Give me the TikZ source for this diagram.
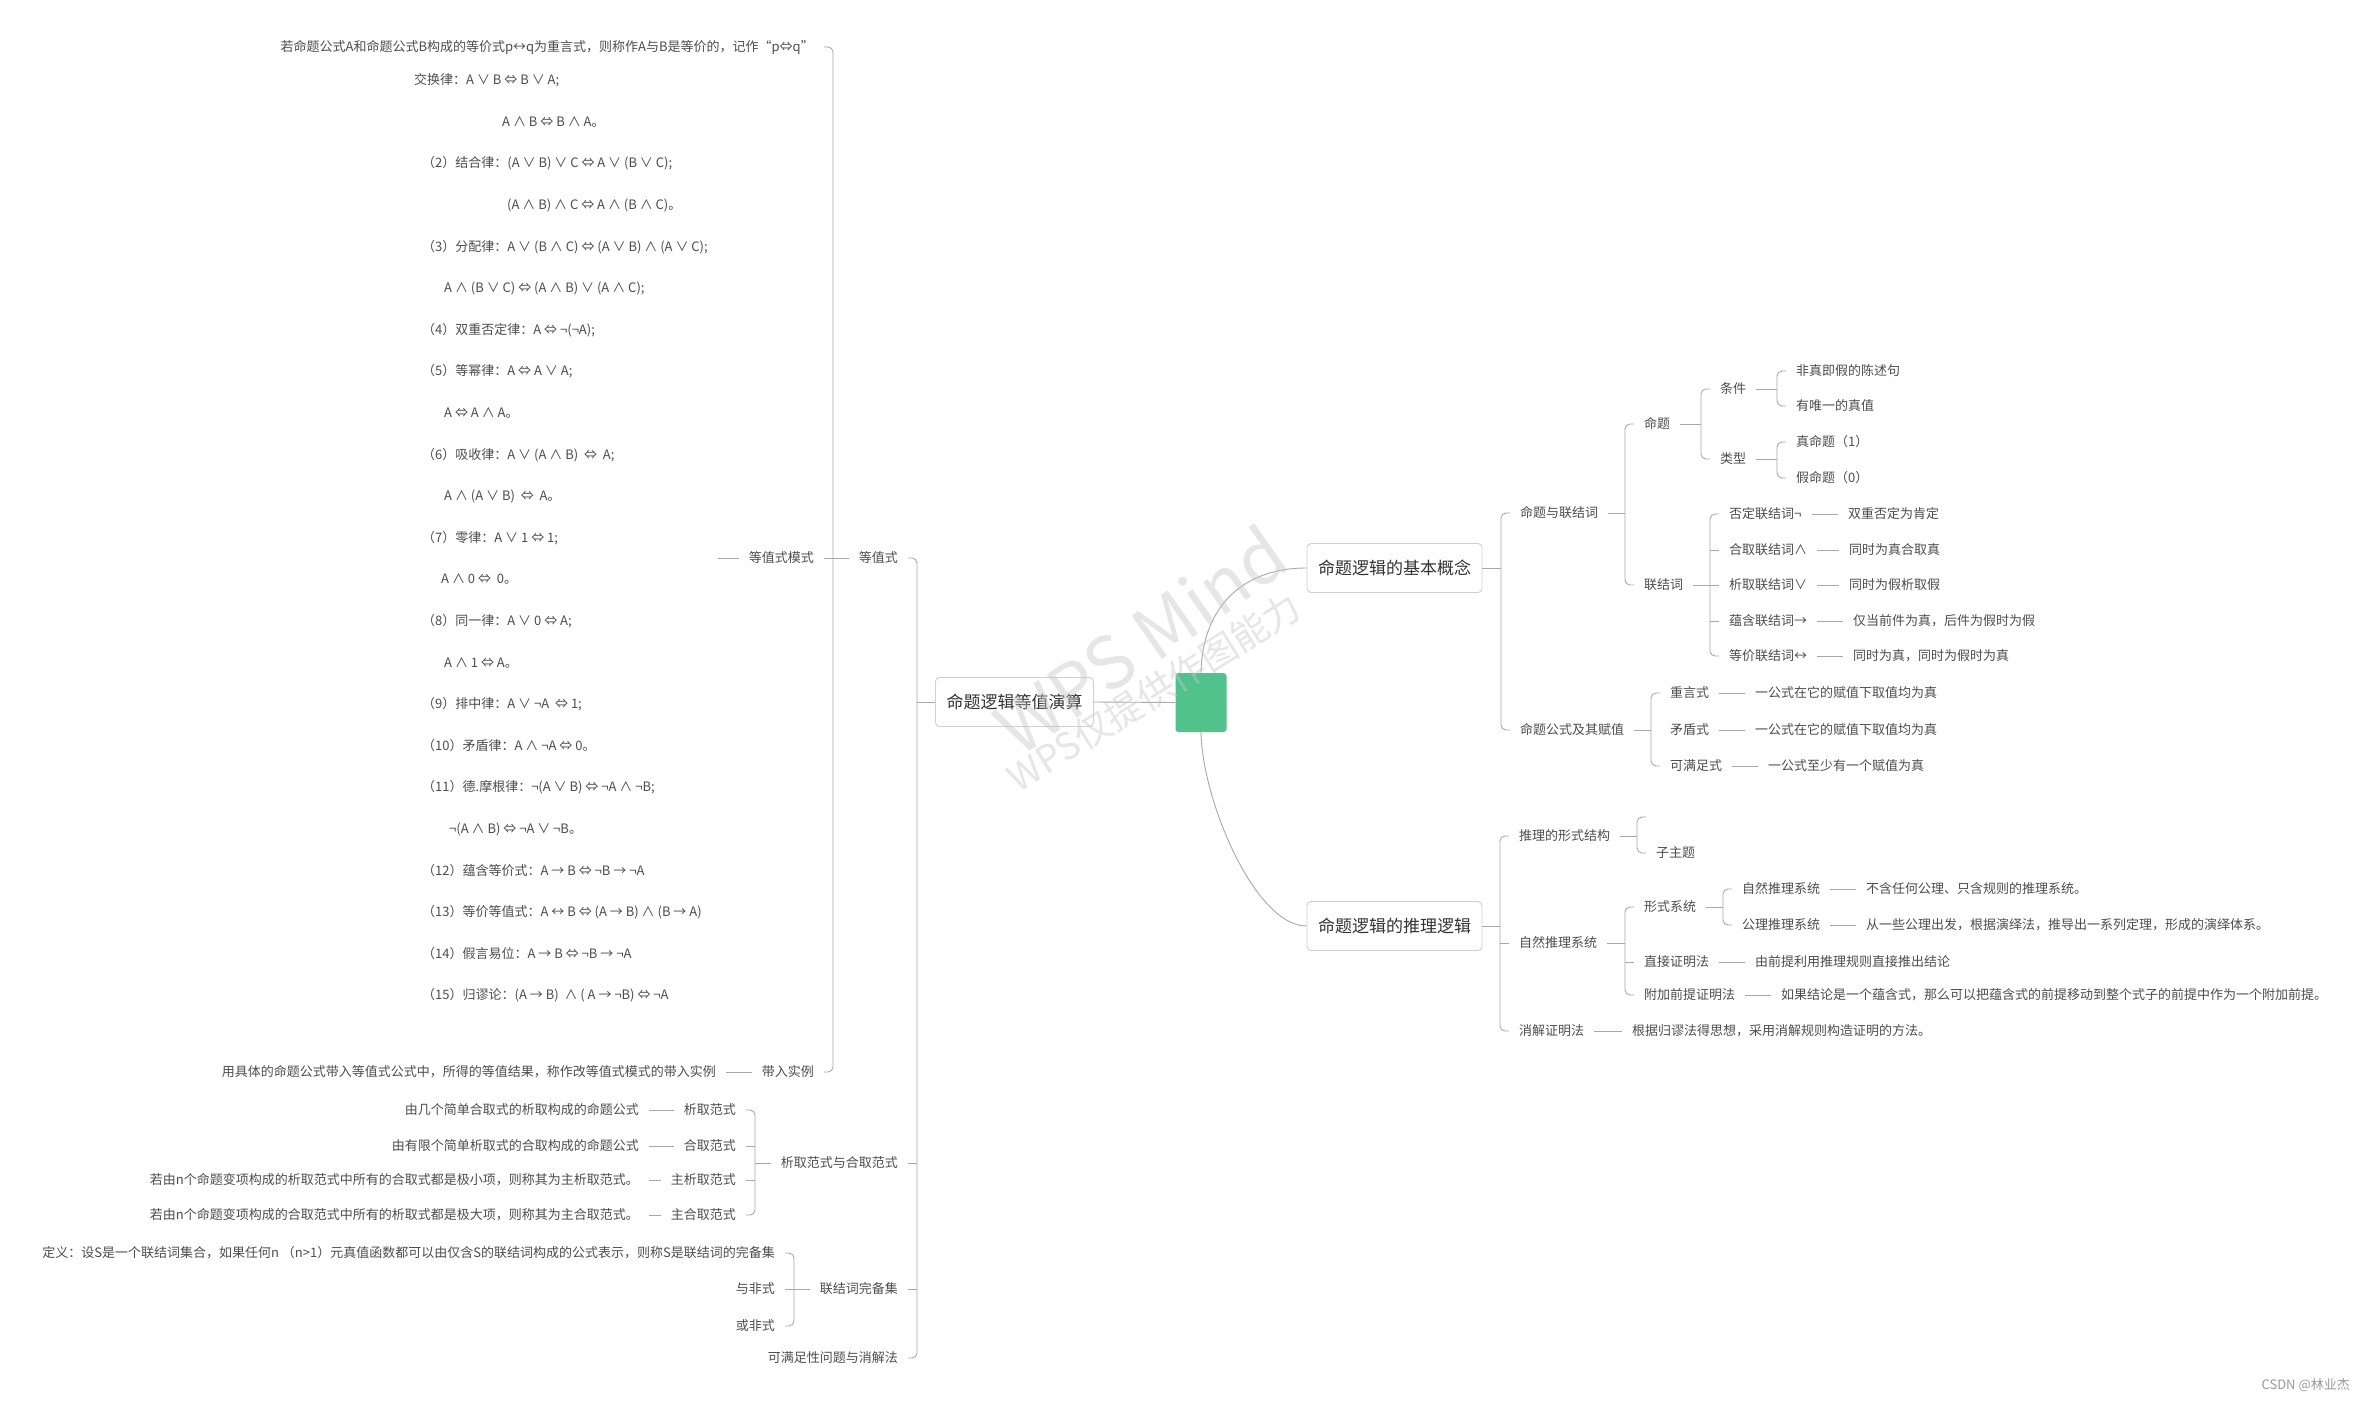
\documentclass[tikz,border=0pt]{standalone}
\usepackage{fontspec}
\setmainfont{Noto Sans CJK SC}
\usetikzlibrary{fit}
\definecolor{rootfill}{HTML}{50C28B}
\definecolor{topicstroke}{HTML}{D0D0D0}
\definecolor{topictext}{HTML}{333333}
\definecolor{itemtext}{HTML}{4D4D4D}
\definecolor{linkstroke}{HTML}{A8A8A8}
\definecolor{markgray}{HTML}{C8C8C8}
\definecolor{creditgray}{HTML}{999999}
\tikzset{
  root/.style={
    rectangle,
    rounded corners=3pt,
    fill=rootfill,
    minimum width=51pt,
    minimum height=59pt,
    inner sep=0pt
  },
  topic/.style={
    rectangle,
    rounded corners=4pt,
    draw=topicstroke,
    fill=white,
    line width=0.9pt,
    minimum height=49pt,
    inner xsep=11pt,
    text=topictext,
    font=\fontsize{17}{20}\selectfont
  },
  item/.style={
    inner sep=0pt,
    text height=11pt,
    text depth=1.5pt,
    text=itemtext,
    font=\fontsize{13}{15}\selectfont
  },
  lawline/.style={item, anchor=west},
  link/.style={draw=linkstroke, line width=0.9pt},
  hook/.style={link, rounded corners=5pt},
  watermark/.style={text=markgray, text opacity=0.45, inner sep=0pt}
}

\begin{document}
\begin{tikzpicture}[x=1pt,y=-1pt]
  \path[use as bounding box, fill=white] (0,0) rectangle (2365,1402);

  \node[root] (center) at (1201,702.5) {};
  \node[topic] (calculus) at (1014.5,702) {命题逻辑等值演算};
  \node[topic] (basics) at (1394.5,568) {命题逻辑的基本概念};
  \node[topic] (reasoning) at (1394.5,926) {命题逻辑的推理逻辑};

  \draw[link] (center.west) -- (calculus.east);
  \draw[link] (center.north) .. controls (1202,610) and (1240,568) .. (basics.west);
  \draw[link] (center.south) .. controls (1202,800) and (1255,926) .. (reasoning.west);

  % Left branch: equivalence calculus.
  \node[item, anchor=east] (equiv) at (898,558) {等值式};
  \node[item, anchor=east] (normal) at (898,1163) {析取范式与合取范式};
  \node[item, anchor=east] (complete) at (898,1289) {联结词完备集};
  \node[item, anchor=east] (satisfy) at (898,1358) {可满足性问题与消解法};
  \draw[hook] ([xshift=10pt]equiv.east) -- ([xshift=19pt]equiv.east)
    -- ([xshift=19pt]satisfy.east) -- ([xshift=10pt]satisfy.east);
  \draw[link] ([xshift=10pt]normal.east) -- ([xshift=19pt]normal.east);
  \draw[link] ([xshift=10pt]complete.east) -- ([xshift=19pt]complete.east);
  \draw[link] (calculus.west) -- ([xshift=19pt]equiv.east |- calculus.west);

  \node[item, anchor=east] (equivdef) at (814,47)
    {若命题公式A和命题公式B构成的等价式p↔q为重言式，则称作A与B是等价的，记作“p⇔q”};
  \node[item, anchor=east] (eqmode) at (814,558) {等值式模式};
  \node[item, anchor=east] (subst) at (814,1072) {带入实例};
  \draw[hook] ([xshift=10pt]equivdef.east) -- ([xshift=19pt]equivdef.east)
    -- ([xshift=19pt]subst.east) -- ([xshift=10pt]subst.east);
  \draw[link] ([xshift=10pt]eqmode.east) -- ([xshift=19pt]eqmode.east);
  \draw[link] ([xshift=-10pt]equiv.west) -- ([xshift=19pt]eqmode.east);

  % Laws of equivalence, one line each.
  \foreach \lx/\lt [count=\i] in {
    414/{交换律：A ∨ B ⇔ B ∨ A;},
    502/{A ∧ B ⇔ B ∧  A。},
    422/{（2）结合律：(A ∨ B) ∨ C ⇔  A ∨ (B ∨ C);},
    507/{(A ∧ B) ∧ C ⇔ A ∧ (B ∧ C)。},
    422/{（3）分配律：A ∨ (B ∧ C) ⇔  (A ∨ B) ∧ (A ∨ C);},
    444/{A ∧ (B ∨ C) ⇔  (A ∧ B) ∨ (A ∧ C);},
    422/{（4）双重否定律：A ⇔  ¬(¬A);},
    422/{（5）等幂律：A ⇔ A ∨ A;},
    444/{A ⇔ A ∧ A。},
    422/{（6）吸收律：A ∨ (A ∧ B) \ ⇔ \ A;},
    444/{A ∧ (A ∨ B) \ ⇔ \ A。},
    422/{（7）零律：A ∨ 1 ⇔ 1;},
    441/{A ∧ 0 ⇔ \ 0。},
    422/{（8）同一律：A ∨ 0 ⇔ A;},
    444/{A ∧ 1 ⇔ A。},
    422/{（9）排中律：A ∨ ¬A \ ⇔ 1;},
    422/{（10）矛盾律：A ∧ ¬A ⇔ 0。},
    422/{（11）德.摩根律：¬(A ∨ B) ⇔ ¬A ∧ ¬B;},
    449/{¬(A ∧ B) ⇔ ¬A ∨ ¬B。},
    422/{（12）蕴含等价式：A → B ⇔ ¬B → ¬A},
    422/{（13）等价等值式：A ↔ B ⇔ (A → B) ∧ (B → A)},
    422/{（14）假言易位：A → B ⇔ ¬B → ¬A},
    422/{（15）归谬论：(A → B) \ ∧ ( A → ¬B) ⇔ ¬A}}
    \node[lawline] (law\i) at (\lx,{38.4+41.6*\i}) {\lt};
  \node[fit=(law1)(law2)(law3)(law4)(law5)(law6)(law7)(law8)(law9)(law10)(law11)(law12)
    (law13)(law14)(law15)(law16)(law17)(law18)(law19)(law20)(law21)(law22)(law23),
    inner sep=0pt] (laws) {};
  \draw[link] ([xshift=-10pt]eqmode.west) -- ([xshift=10pt]laws.east |- eqmode.west);

  \node[item, anchor=east] (substcase) at (716,1072)
    {用具体的命题公式带入等值式公式中，所得的等值结果，称作改等值式模式的带入实例};
  \draw[link] ([xshift=-10pt]subst.west) -- ([xshift=10pt]substcase.east);

  % Normal forms.
  \node[item, anchor=east] (disj) at (736,1110) {析取范式};
  \node[item, anchor=east] (conj) at (736,1146) {合取范式};
  \node[item, anchor=east] (pdisj) at (736,1180) {主析取范式};
  \node[item, anchor=east] (pconj) at (736,1215) {主合取范式};
  \draw[hook] ([xshift=10pt]disj.east) -- ([xshift=19pt]disj.east)
    -- ([xshift=19pt]pconj.east) -- ([xshift=10pt]pconj.east);
  \draw[link] ([xshift=10pt]conj.east) -- ([xshift=19pt]conj.east);
  \draw[link] ([xshift=10pt]pdisj.east) -- ([xshift=19pt]pdisj.east);
  \draw[link] ([xshift=-10pt]normal.west) -- ([xshift=19pt]disj.east |- normal.west);

  \node[item, anchor=east] (disjdef) at (639,1110) {由几个简单合取式的析取构成的命题公式};
  \node[item, anchor=east] (conjdef) at (639,1146) {由有限个简单析取式的合取构成的命题公式};
  \node[item, anchor=east] (pdisjdef) at (639,1180)
    {若由n个命题变项构成的析取范式中所有的合取式都是极小项，则称其为主析取范式。};
  \node[item, anchor=east] (pconjdef) at (639,1215)
    {若由n个命题变项构成的合取范式中所有的析取式都是极大项，则称其为主合取范式。};
  \draw[link] ([xshift=-10pt]disj.west) -- ([xshift=10pt]disjdef.east);
  \draw[link] ([xshift=-10pt]conj.west) -- ([xshift=10pt]conjdef.east);
  \draw[link] ([xshift=-10pt]pdisj.west) -- ([xshift=10pt]pdisjdef.east);
  \draw[link] ([xshift=-10pt]pconj.west) -- ([xshift=10pt]pconjdef.east);

  % Complete sets of connectives.
  \node[item, anchor=east] (completedef) at (775,1253)
    {定义：设S是一个联结词集合，如果任何n （n>1）元真值函数都可以由仅含S的联结词构成的公式表示，则称S是联结词的完备集};
  \node[item, anchor=east] (nand) at (775,1289) {与非式};
  \node[item, anchor=east] (nor) at (775,1326) {或非式};
  \draw[hook] ([xshift=10pt]completedef.east) -- ([xshift=19pt]completedef.east)
    -- ([xshift=19pt]nor.east) -- ([xshift=10pt]nor.east);
  \draw[link] ([xshift=10pt]nand.east) -- ([xshift=19pt]nand.east);
  \draw[link] ([xshift=-10pt]complete.west) -- ([xshift=19pt]nand.east |- complete.west);

  % Right branch: basic concepts.
  \node[item, anchor=west] (propconn) at (1520,513) {命题与联结词};
  \node[item, anchor=west] (formula) at (1520,730) {命题公式及其赋值};
  \draw[hook] ([xshift=-10pt]propconn.west) -- ([xshift=-19pt]propconn.west)
    -- ([xshift=-19pt]formula.west) -- ([xshift=-10pt]formula.west);
  \draw[link] (basics.east) -- ([xshift=-19pt]propconn.west |- basics.east);

  \node[item, anchor=west] (prop) at (1644,424) {命题};
  \node[item, anchor=west] (conn) at (1644,585) {联结词};
  \draw[hook] ([xshift=-10pt]prop.west) -- ([xshift=-19pt]prop.west)
    -- ([xshift=-19pt]conn.west) -- ([xshift=-10pt]conn.west);
  \draw[link] ([xshift=10pt]propconn.east) -- ([xshift=-19pt]prop.west |- propconn.east);

  \node[item, anchor=west] (cond) at (1720,389) {条件};
  \node[item, anchor=west] (kind) at (1720,459) {类型};
  \draw[hook] ([xshift=-10pt]cond.west) -- ([xshift=-19pt]cond.west)
    -- ([xshift=-19pt]kind.west) -- ([xshift=-10pt]kind.west);
  \draw[link] ([xshift=10pt]prop.east) -- ([xshift=-19pt]cond.west |- prop.east);

  \node[item, anchor=west] (declar) at (1796,371) {非真即假的陈述句};
  \node[item, anchor=west] (unique) at (1796,406) {有唯一的真值};
  \draw[hook] ([xshift=-10pt]declar.west) -- ([xshift=-19pt]declar.west)
    -- ([xshift=-19pt]unique.west) -- ([xshift=-10pt]unique.west);
  \draw[link] ([xshift=10pt]cond.east) -- ([xshift=-19pt]declar.west |- cond.east);

  \node[item, anchor=west] (truep) at (1796,442) {真命题（1）};
  \node[item, anchor=west] (falsep) at (1796,478) {假命题（0）};
  \draw[hook] ([xshift=-10pt]truep.west) -- ([xshift=-19pt]truep.west)
    -- ([xshift=-19pt]falsep.west) -- ([xshift=-10pt]falsep.west);
  \draw[link] ([xshift=10pt]kind.east) -- ([xshift=-19pt]truep.west |- kind.east);

  \node[item, anchor=west] (negc) at (1729,514) {否定联结词¬};
  \node[item, anchor=west] (andc) at (1729,550) {合取联结词∧};
  \node[item, anchor=west] (orc) at (1729,585) {析取联结词∨};
  \node[item, anchor=west] (impc) at (1729,621) {蕴含联结词→};
  \node[item, anchor=west] (iffc) at (1729,656) {等价联结词↔};
  \draw[hook] ([xshift=-10pt]negc.west) -- ([xshift=-19pt]negc.west)
    -- ([xshift=-19pt]iffc.west) -- ([xshift=-10pt]iffc.west);
  \foreach \c in {andc,orc,impc}
    \draw[link] ([xshift=-10pt]\c.west) -- ([xshift=-19pt]\c.west);
  \draw[link] ([xshift=10pt]conn.east) -- ([xshift=-19pt]orc.west);

  \node[item, anchor=west] (negl) at (1848,514) {双重否定为肯定};
  \node[item, anchor=west] (andl) at (1849,550) {同时为真合取真};
  \node[item, anchor=west] (orl) at (1849,585) {同时为假析取假};
  \node[item, anchor=west] (impl) at (1853,621) {仅当前件为真，后件为假时为假};
  \node[item, anchor=west] (iffl) at (1853,656) {同时为真，同时为假时为真};
  \foreach \c/\l in {negc/negl,andc/andl,orc/orl,impc/impl,iffc/iffl}
    \draw[link] ([xshift=10pt]\c.east) -- ([xshift=-10pt]\l.west);

  \node[item, anchor=west] (taut) at (1670,693) {重言式};
  \node[item, anchor=west] (contra) at (1670,730) {矛盾式};
  \node[item, anchor=west] (satis) at (1670,766) {可满足式};
  \draw[hook] ([xshift=-10pt]taut.west) -- ([xshift=-19pt]taut.west)
    -- ([xshift=-19pt]satis.west) -- ([xshift=-10pt]satis.west);
  \draw[link] ([xshift=10pt]formula.east) -- ([xshift=-19pt]contra.west);

  \node[item, anchor=west] (tautl) at (1755,693) {一公式在它的赋值下取值均为真};
  \node[item, anchor=west] (contral) at (1755,730) {一公式在它的赋值下取值均为真};
  \node[item, anchor=west] (satisl) at (1768,766) {一公式至少有一个赋值为真};
  \foreach \c/\l in {taut/tautl,contra/contral,satis/satisl}
    \draw[link] ([xshift=10pt]\c.east) -- ([xshift=-10pt]\l.west);

  % Right branch: reasoning.
  \node[item, anchor=west] (form) at (1519,836) {推理的形式结构};
  \node[item, anchor=west] (natural) at (1519,943) {自然推理系统};
  \node[item, anchor=west] (resol) at (1519,1031) {消解证明法};
  \draw[hook] ([xshift=-10pt]form.west) -- ([xshift=-19pt]form.west)
    -- ([xshift=-19pt]resol.west) -- ([xshift=-10pt]resol.west);
  \draw[link] ([xshift=-10pt]natural.west) -- ([xshift=-19pt]natural.west);
  \draw[link] (reasoning.east) -- ([xshift=-19pt]form.west |- reasoning.east);

  \coordinate (blanktopic) at (1656,817);
  \node[item, anchor=west] (subtopic) at (1656,853) {子主题};
  \draw[hook] ([xshift=-10pt]blanktopic) -- ([xshift=-19pt]blanktopic)
    -- ([xshift=-19pt]subtopic.west) -- ([xshift=-10pt]subtopic.west);
  \draw[link] ([xshift=10pt]form.east) -- ([xshift=-19pt]subtopic.west |- form.east);

  \node[item, anchor=west] (formal) at (1644,907) {形式系统};
  \node[item, anchor=west] (direct) at (1644,962) {直接证明法};
  \node[item, anchor=west] (extra) at (1644,995) {附加前提证明法};
  \draw[hook] ([xshift=-10pt]formal.west) -- ([xshift=-19pt]formal.west)
    -- ([xshift=-19pt]extra.west) -- ([xshift=-10pt]extra.west);
  \draw[link] ([xshift=-10pt]direct.west) -- ([xshift=-19pt]direct.west);
  \draw[link] ([xshift=10pt]natural.east) -- ([xshift=-19pt]formal.west |- natural.east);

  \node[item, anchor=west] (natsys) at (1742,889) {自然推理系统};
  \node[item, anchor=west] (axsys) at (1742,925) {公理推理系统};
  \draw[hook] ([xshift=-10pt]natsys.west) -- ([xshift=-19pt]natsys.west)
    -- ([xshift=-19pt]axsys.west) -- ([xshift=-10pt]axsys.west);
  \draw[link] ([xshift=10pt]formal.east) -- ([xshift=-19pt]natsys.west |- formal.east);

  \node[item, anchor=west] (natsysl) at (1866,889) {不含任何公理、只含规则的推理系统。};
  \node[item, anchor=west] (axsysl) at (1866,925)
    {从一些公理出发，根据演绎法，推导出一系列定理，形成的演绎体系。};
  \node[item, anchor=west] (directl) at (1755,962) {由前提利用推理规则直接推出结论};
  \node[item, anchor=west] (extral) at (1781,995)
    {如果结论是一个蕴含式，那么可以把蕴含式的前提移动到整个式子的前提中作为一个附加前提。};
  \node[item, anchor=west] (resoll) at (1632,1031) {根据归谬法得思想，采用消解规则构造证明的方法。};
  \foreach \c/\l in {natsys/natsysl,axsys/axsysl,direct/directl,extra/extral,resol/resoll}
    \draw[link] ([xshift=10pt]\c.east) -- ([xshift=-10pt]\l.west);

  \node[item, anchor=east, text=creditgray] (credit) at (2350,1385) {CSDN @林业杰};

  % Watermark laid over the map.
  \node[watermark, rotate=35, font=\fontsize{72}{72}\selectfont] (wpsmind) at (1140,640) {WPS Mind};
  \node[watermark, rotate=32, font=\fontsize{37}{37}\selectfont] (wpsnote) at (1154,692) {WPS仅提供作图能力};
\end{tikzpicture}
\end{document}
